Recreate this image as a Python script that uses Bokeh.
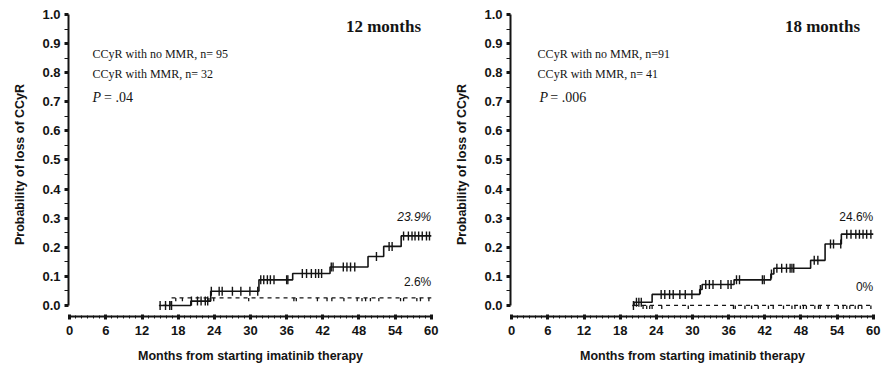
import numpy as np
from bokeh.plotting import figure
from bokeh.layouts import row
from bokeh.models import Label, FixedTicker, Range1d, PrintfTickFormatter
from bokeh.embed import file_html
from bokeh.resources import INLINE

# ---------------- data ----------------
x_ticks = [0, 6, 12, 18, 24, 30, 36, 42, 48, 54, 60]
x_minor = list(range(0, 61))
y_ticks = [0.0, 0.1, 0.2, 0.3, 0.4, 0.5, 0.6, 0.7, 0.8, 0.9, 1.0]
y_minor = [0.05, 0.15, 0.25, 0.35, 0.45, 0.55, 0.65, 0.75, 0.85, 0.95]

# 12-month landmark
t12_nommr = [14.8, 20.1, 23.4, 31.4, 37.0, 43.2, 49.5, 52.1, 55.0, 60.0]
s12_nommr = [0.0, 0.015, 0.049, 0.088, 0.110, 0.132, 0.168, 0.203, 0.239, 0.239]
c12_nommr = [15.0, 15.9, 16.6, 16.9, 20.2, 21.2, 21.8, 22.5, 22.9, 23.5, 24.8, 25.3,
             27.0, 28.4, 29.9, 31.2, 31.7, 32.2, 32.8, 33.3, 33.9, 36.0, 36.2, 38.6,
             39.3, 40.1, 40.8, 41.3, 41.8, 43.4, 43.7, 45.4, 46.0, 46.6, 47.3, 50.9,
             53.0, 53.5, 55.4, 56.2, 56.8, 57.3, 57.9, 58.5, 59.2, 59.7]
t12_mmr = [15.5, 16.8, 60.0]
s12_mmr = [0.0, 0.026, 0.026]
c12_mmr = [17.6, 18.7, 22.5, 23.1, 23.9, 29.7, 37.2, 37.6, 41.1, 42.7, 43.5, 45.5,
           47.7, 48.5, 49.1, 49.9, 51.3, 54.9, 55.4, 57.6, 58.2, 59.6]

# 18-month landmark
t18_nommr = [20.0, 20.3, 23.3, 31.2, 31.6, 36.9, 43.0, 43.5, 49.6, 52.0, 54.7, 60.0]
s18_nommr = [0.0, 0.011, 0.038, 0.055, 0.072, 0.088, 0.108, 0.128, 0.155, 0.211, 0.245, 0.245]
c18_nommr = [20.2, 20.7, 21.1, 21.5, 24.8, 25.4, 26.2, 26.8, 27.9, 28.8, 29.9, 31.3,
             32.2, 32.8, 33.4, 34.7, 35.9, 36.4, 37.3, 37.8, 41.6, 41.9, 43.1, 44.0,
             44.8, 45.6, 46.2, 46.5, 46.8, 50.2, 50.8, 52.9, 53.4, 54.6, 55.6, 56.3,
             57.1, 57.7, 58.3, 58.9, 59.6]
t18_mmr = [20.3, 60.0]
s18_mmr = [0.0, 0.0]
c18_mmr = [21.8, 22.4, 22.9, 23.3, 24.9, 29.3, 36.8, 37.1, 38.7, 39.8, 40.9, 42.6,
           43.4, 45.1, 46.5, 47.0, 47.9, 48.4, 48.9, 50.3, 50.9, 51.2, 52.5, 54.2,
           55.0, 55.6, 56.1, 57.0, 57.5, 58.1, 59.6]

panels = [
    dict(title="12 months", n1="CCyR with no MMR, n= 95", n2="CCyR with MMR, n= 32",
         pval="= .04", lab1="23.9%", lab1_italic=True, lab2="2.6%",
         t1=t12_nommr, s1=s12_nommr, c1=c12_nommr,
         t2=t12_mmr, s2=s12_mmr, c2=c12_mmr),
    dict(title="18 months", n1="CCyR with no MMR, n=91", n2="CCyR with MMR, n= 41",
         pval="= .006", lab1="24.6%", lab1_italic=False, lab2="0%",
         t1=t18_nommr, s1=s18_nommr, c1=c18_nommr,
         t2=t18_mmr, s2=s18_mmr, c2=c18_mmr),
]

INK = "#141414"


def level_at(t, s, c):
    t = np.asarray(t)
    s = np.asarray(s)
    idx = np.searchsorted(t, np.asarray(c), side="right") - 1
    idx = np.clip(idx, 0, len(s) - 1)
    return s[idx]


def make_panel(d, border_left, border_right, txt_x, p_x, peq_x, title_x):
    p = figure(frame_width=364, frame_height=304,
               x_range=Range1d(-0.2, 60.2), y_range=Range1d(-0.038, 1.007),
               min_border_left=border_left, min_border_right=border_right,
               min_border_top=12, min_border_bottom=47,
               output_backend="svg", toolbar_location=None)
    p.outline_line_color = None
    p.grid.visible = False
    p.background_fill_color = "white"
    p.border_fill_color = "white"

    # axes
    p.xaxis.ticker = FixedTicker(ticks=x_ticks, minor_ticks=x_minor)
    p.yaxis.ticker = FixedTicker(ticks=y_ticks, minor_ticks=y_minor)
    p.yaxis.formatter = PrintfTickFormatter(format="%.1f")
    p.xaxis.bounds = (-0.3, 60)
    p.yaxis.bounds = (0, 1.0)
    for ax in (p.xaxis, p.yaxis):
        ax.axis_line_width = 2
        ax.axis_line_color = INK
        ax.major_tick_line_color = INK
        ax.minor_tick_line_color = INK
        ax.major_tick_line_width = 3
        ax.minor_tick_line_width = 1
        ax.major_label_text_font = "Liberation Sans"
        ax.major_label_text_font_style = "bold"
        ax.major_label_text_font_size = "13px"
        ax.major_label_text_color = INK
        ax.axis_label_text_font = "Liberation Sans"
        ax.axis_label_text_font_style = "bold"
        ax.axis_label_text_font_size = "12.5px"
        ax.axis_label_text_color = INK
    p.xaxis.major_tick_in = 2
    p.xaxis.major_tick_out = 3
    p.xaxis.minor_tick_in = 1
    p.xaxis.minor_tick_out = 2
    p.xaxis.major_label_standoff = 6
    p.xaxis.axis_label_standoff = 11
    p.yaxis.major_tick_in = 0
    p.yaxis.major_tick_out = 4
    p.yaxis.minor_tick_in = 0
    p.yaxis.minor_tick_out = 4
    p.yaxis.major_label_standoff = 4
    p.yaxis.axis_label_standoff = 12
    p.xaxis.axis_label = "Months from starting imatinib therapy"
    p.yaxis.axis_label = "Probability of loss of CCyR"

    # curves
    p.step(d["t1"], d["s1"], mode="after", line_color=INK, line_width=1.6)
    p.step(d["t2"], d["s2"], mode="after", line_color=INK, line_width=1.3,
           line_dash="4 4")
    y1 = level_at(d["t1"], d["s1"], d["c1"])
    p.scatter(d["c1"], y1, marker="dash", angle=np.pi / 2, size=9,
              line_color=INK, line_width=1.4)
    y2 = level_at(d["t2"], d["s2"], d["c2"])
    p.segment(x0=d["c2"], y0=y2, x1=d["c2"], y1=y2 - 0.012,
              line_color=INK, line_width=1.3)

    # annotations
    p.add_layout(Label(x=title_x, y=0.958, text=d["title"], text_align="right",
                       text_baseline="middle", text_font="Liberation Serif",
                       text_font_style="bold", text_font_size="17px",
                       text_color=INK))
    p.add_layout(Label(x=txt_x, y=0.866, text=d["n1"], text_baseline="middle",
                       text_font="Liberation Serif", text_font_size="12px",
                       text_color=INK))
    p.add_layout(Label(x=txt_x, y=0.794, text=d["n2"], text_baseline="middle",
                       text_font="Liberation Serif", text_font_size="12px",
                       text_color=INK))
    p.add_layout(Label(x=p_x, y=0.715, text="P", text_baseline="middle",
                       text_font="Liberation Serif", text_font_style="italic",
                       text_font_size="14px", text_color=INK))
    p.add_layout(Label(x=peq_x, y=0.715, text=d["pval"], text_baseline="middle",
                       text_font="Liberation Serif", text_font_size="14px",
                       text_color=INK))
    p.add_layout(Label(x=60, y=0.305, text=d["lab1"], text_align="right",
                       text_baseline="middle", text_font="Liberation Sans",
                       text_font_style="italic" if d["lab1_italic"] else "normal",
                       text_font_size="12px", text_color=INK))
    p.add_layout(Label(x=60, y=0.082 if d["lab1_italic"] else 0.062, text=d["lab2"],
                       text_align="right", text_baseline="middle",
                       text_font="Liberation Sans", text_font_size="12px",
                       text_color=INK))
    return p


p1 = make_panel(panels[0], 68, 11, txt_x=3.8, p_x=3.8, peq_x=5.7, title_x=58.3)
p2 = make_panel(panels[1], 67, 12, txt_x=4.3, p_x=4.6, peq_x=6.4, title_x=57.8)

layout = row(p1, p2)
open("out.html", "w").write(file_html(layout, INLINE))
